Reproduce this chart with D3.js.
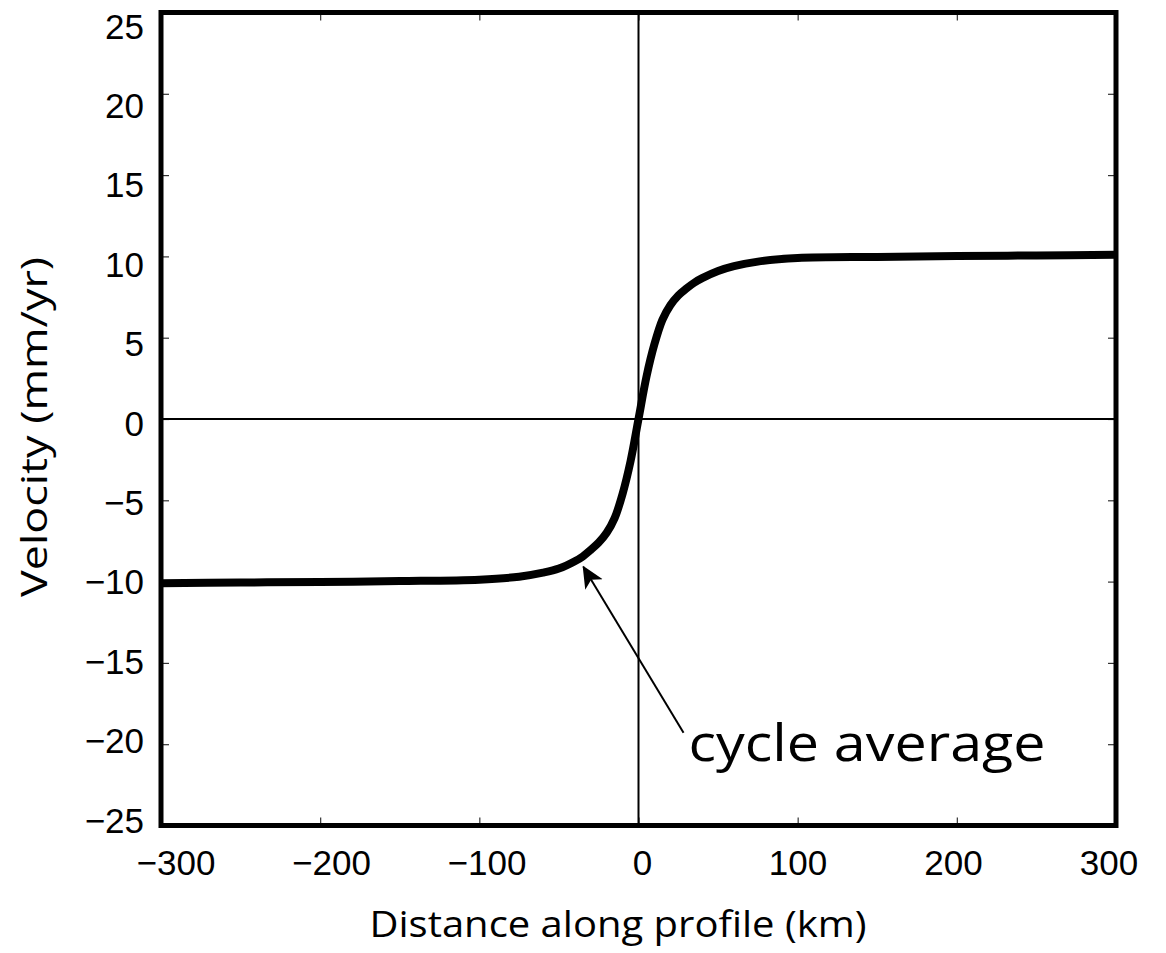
<!DOCTYPE html>
<html>
<head>
<meta charset="utf-8">
<script src="https://cdn.jsdelivr.net/npm/d3@7"></script>
<style>
  body { margin: 0; background: #fff; }
  svg { display: block; }
</style>
</head>
<body>
<svg id="chart"></svg>
<script>
// distance along profile (km) and cycle-average velocity (mm/yr)
const distance = [-300, -250, -200, -150, -100, -75, -60, -50, -40, -35, -30, -25, -20, -15, -10, -5, 0,
                  5, 10, 15, 20, 25, 30, 35, 40, 50, 60, 75, 100, 150, 200, 250, 300];
const velocity = [-10.1, -10.06, -10.02, -9.97, -9.88, -9.7, -9.45, -9.2, -8.75, -8.45, -8.05, -7.6, -7.0, -6.1, -4.6, -2.6, 0,
                  2.6, 4.6, 6.1, 7.0, 7.6, 8.02, 8.38, 8.66, 9.1, 9.4, 9.68, 9.9, 9.97, 10.02, 10.06, 10.1];

const xTicks = [-300, -200, -100, 0, 100, 200, 300];
const yTicks = [-25, -20, -15, -10, -5, 0, 5, 10, 15, 20, 25];

// annotation arrow in data units: tail -> tip
const arrowTail = [28.3, -19.3];
const arrowTip = [-34.6, -9.1];
const noteAt = [31.4, -21.05];
const noteText = "cycle average";

const width = 1166;
const height = 953;

const svg = d3.select("#chart").attr("width", width).attr("height", height);

const xScale = d3.scaleLinear().domain([-300, 300]).range([161, 1116]);
const yScale = d3.scaleLinear().domain([-25, 25]).range([825.5, 12.5]);

// the tick labels sit on a slightly tighter spacing than the ticks
const xLabelScale = d3.scaleLinear().domain([-300, 300]).range([176, 1109]);
const yLabelScale = d3.scaleLinear().domain([-25, 25]).range([820, 26]);

const fmt = d => d < 0 ? "\u2212" + Math.abs(d) : String(d);

// inward ticks on all four sides
const tickLen = 8;
[[d3.axisBottom(xScale), 825.5], [d3.axisTop(xScale), 12.5]].forEach(([ax, pos]) => {
  const g = svg.append("g").attr("transform", "translate(0," + pos + ")");
  g.call(ax.tickValues(xTicks).tickSize(tickLen).tickFormat(""));
  g.select(".domain").remove();
  g.selectAll(".tick line").attr("y2", pos > 400 ? -tickLen : tickLen).attr("stroke", "#333").attr("stroke-width", 1.2);
});
[[d3.axisLeft(yScale), 161], [d3.axisRight(yScale), 1116]].forEach(([ax, pos]) => {
  const g = svg.append("g").attr("transform", "translate(" + pos + ",0)");
  g.call(ax.tickValues(yTicks).tickSize(tickLen).tickFormat(""));
  g.select(".domain").remove();
  g.selectAll(".tick line").attr("x2", pos < 400 ? tickLen : -tickLen).attr("stroke", "#333").attr("stroke-width", 1.2);
});

// tick labels
svg.append("g").selectAll("text").data(xTicks).enter().append("text")
  .attr("x", d => xLabelScale(d))
  .attr("y", 875)
  .attr("text-anchor", "middle")
  .attr("font-family", "Liberation Sans, Arial, sans-serif")
  .attr("font-size", 35)
  .text(fmt);

svg.append("g").selectAll("text").data(yTicks).enter().append("text")
  .attr("x", 144)
  .attr("y", d => yLabelScale(d))
  .attr("dy", "0.36em")
  .attr("text-anchor", "end")
  .attr("font-family", "Liberation Sans, Arial, sans-serif")
  .attr("font-size", 35)
  .text(fmt);

// zero lines
svg.append("line")
  .attr("x1", xScale(-300)).attr("x2", xScale(300))
  .attr("y1", yScale(0)).attr("y2", yScale(0))
  .attr("stroke", "#000").attr("stroke-width", 2);
svg.append("line")
  .attr("x1", xScale(0)).attr("x2", xScale(0))
  .attr("y1", yScale(-25)).attr("y2", yScale(25))
  .attr("stroke", "#000").attr("stroke-width", 2);

// velocity curve
const line = d3.line()
  .x((d, i) => xScale(distance[i]))
  .y(d => yScale(d))
  .curve(d3.curveCatmullRom.alpha(0.5));

svg.append("path")
  .datum(velocity)
  .attr("d", line)
  .attr("fill", "none")
  .attr("stroke", "#000")
  .attr("stroke-width", 8)
  .attr("stroke-linejoin", "round");

// frame
svg.append("rect")
  .attr("x", xScale(-300)).attr("y", yScale(25))
  .attr("width", xScale(300) - xScale(-300))
  .attr("height", yScale(-25) - yScale(25))
  .attr("fill", "none").attr("stroke", "#000").attr("stroke-width", 5);

// annotation arrow
svg.append("defs").append("marker")
  .attr("id", "head")
  .attr("viewBox", "0 -6 14 12")
  .attr("refX", 13).attr("refY", 0)
  .attr("markerWidth", 11).attr("markerHeight", 11)
  .attr("markerUnits", "strokeWidth")
  .attr("orient", "auto")
  .append("path").attr("d", "M0,-6.5L14,0L0,6.5L3.5,0Z").attr("fill", "#000");

svg.append("line")
  .attr("x1", xScale(arrowTail[0])).attr("y1", yScale(arrowTail[1]))
  .attr("x2", xScale(arrowTip[0])).attr("y2", yScale(arrowTip[1]))
  .attr("stroke", "#000").attr("stroke-width", 2)
  .attr("marker-end", "url(#head)");

svg.append("text")
  .attr("x", xScale(noteAt[0])).attr("y", yScale(noteAt[1]))
  .attr("font-family", "Open Sans, Noto Sans, sans-serif")
  .attr("font-size", 52)
  .attr("textLength", 357)
  .attr("lengthAdjust", "spacingAndGlyphs")
  .text(noteText);

// axis titles
svg.append("text")
  .attr("x", 618).attr("y", 937)
  .attr("text-anchor", "middle")
  .attr("font-family", "Open Sans, Noto Sans, sans-serif")
  .attr("font-size", 36)
  .attr("textLength", 497)
  .attr("lengthAdjust", "spacingAndGlyphs")
  .text("Distance along profile (km)");

svg.append("text")
  .attr("transform", "translate(47,427) rotate(-90)")
  .attr("text-anchor", "middle")
  .attr("font-family", "Open Sans, Noto Sans, sans-serif")
  .attr("font-size", 36)
  .attr("textLength", 340)
  .attr("lengthAdjust", "spacingAndGlyphs")
  .text("Velocity (mm/yr)");
</script>
</body>
</html>
